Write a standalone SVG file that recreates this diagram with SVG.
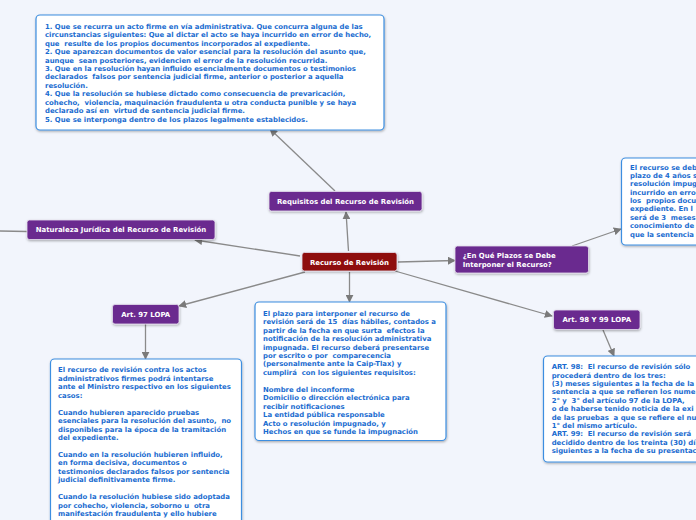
<svg xmlns="http://www.w3.org/2000/svg" width="696" height="520" viewBox="0 0 696 520">
<style>
.bg{fill:#f2f5fc}
.box{fill:#ffffff;stroke:#3d8ee0;stroke-width:1.2}
.pn{fill:#6b2a8f;stroke:#e6e0ee;stroke-width:0.8}
.rn{fill:#8e0f0c;stroke:#e6e0ee;stroke-width:0.8}
.bt{font-family:"DejaVu Sans",Verdana,sans-serif;font-weight:bold;font-size:6.9px;fill:#1a6cd0}
.nt{font-family:"DejaVu Sans",Verdana,sans-serif;font-weight:bold;font-size:6.95px;fill:#ffffff}
.c{stroke:#8a8a8a;stroke-width:1.3;fill:none}
</style>
<defs>
<marker id="ah" viewBox="0 0 10 10" refX="9" refY="5" markerWidth="8" markerHeight="8" markerUnits="userSpaceOnUse" orient="auto">
<path d="M0,0 L10,5 L0,10 z" fill="#7a7a7a"/>
</marker>
<filter id="sh" x="-10%" y="-10%" width="120%" height="130%">
<feDropShadow dx="0.5" dy="1.2" stdDeviation="0.9" flood-color="#000" flood-opacity="0.3"/>
</filter>
</defs>
<rect class="bg" x="0" y="0" width="696" height="520"/>

<g id="connectors">
<line class="c" x1="335" y1="191" x2="270" y2="129" marker-end="url(#ah)"/>
<line class="c" x1="348.5" y1="251" x2="346" y2="212" marker-end="url(#ah)"/>
<line class="c" x1="300" y1="256" x2="195" y2="240" marker-end="url(#ah)"/>
<line class="c" x1="0" y1="231" x2="27" y2="231.5"/>
<line class="c" x1="398" y1="262" x2="455" y2="260.5" marker-end="url(#ah)"/>
<line class="c" x1="572" y1="246" x2="621" y2="229" marker-end="url(#ah)"/>
<line class="c" x1="305" y1="272" x2="179" y2="306" marker-end="url(#ah)"/>
<line class="c" x1="145.5" y1="324" x2="145.5" y2="359" marker-end="url(#ah)"/>
<line class="c" x1="349.5" y1="272" x2="349.5" y2="302" marker-end="url(#ah)"/>
<line class="c" x1="395" y1="271" x2="552" y2="316" marker-end="url(#ah)"/>
<line class="c" x1="603" y1="330" x2="614" y2="356" marker-end="url(#ah)"/>
</g>

<g id="requisitos-texto">
<rect class="box" x="36" y="15" width="348" height="115" rx="4" filter="url(#sh)"/>
<text class="bt" xml:space="preserve"><tspan x="45" y="28.7">1. Que se recurra un acto firme en vía administrativa. Que concurra alguna de las</tspan>
<tspan x="45" y="37.15">circunstancias siguientes: Que al dictar el acto se haya incurrido en error de hecho,</tspan>
<tspan x="45" y="45.6">que  resulte de los propios documentos incorporados al expediente.</tspan>
<tspan x="45" y="54.05">2. Que aparezcan documentos de valor esencial para la resolución del asunto que,</tspan>
<tspan x="45" y="62.5">aunque  sean posteriores, evidencien el error de la resolución recurrida.</tspan>
<tspan x="45" y="70.95">3. Que en la resolución hayan influido esencialmente documentos o testimonios</tspan>
<tspan x="45" y="79.4">declarados  falsos por sentencia judicial firme, anterior o posterior a aquella</tspan>
<tspan x="45" y="87.85">resolución.</tspan>
<tspan x="45" y="96.3">4. Que la resolución se hubiese dictado como consecuencia de prevaricación,</tspan>
<tspan x="45" y="104.75">cohecho,  violencia, maquinación fraudulenta u otra conducta punible y se haya</tspan>
<tspan x="45" y="113.2">declarado así en  virtud de sentencia judicial firme.</tspan>
<tspan x="45" y="121.65">5. Que se interponga dentro de los plazos legalmente establecidos.</tspan></text>
</g>

<g id="requisitos">
<rect class="pn" x="269" y="191.5" width="153" height="19.5" rx="2.5" filter="url(#sh)"/>
<text class="nt" x="345.5" y="203.9" text-anchor="middle">Requisitos del Recurso de Revisión</text>
</g>

<g id="naturaleza">
<rect class="pn" x="27" y="220" width="188" height="19.5" rx="2.5" filter="url(#sh)"/>
<text class="nt" x="121" y="232.1" text-anchor="middle">Naturaleza Jurídica del Recurso de Revisión</text>
</g>

<g id="recurso">
<rect class="rn" x="302" y="252.5" width="95" height="18.5" rx="2.5" filter="url(#sh)"/>
<text class="nt" x="349.5" y="264.5" text-anchor="middle">Recurso de Revisión</text>
</g>

<g id="plazos">
<rect class="pn" x="455" y="246" width="133.5" height="27" rx="2.5" filter="url(#sh)"/>
<text class="nt"><tspan x="462.7" y="258.1">¿En Qué Plazos se Debe</tspan><tspan x="462.7" y="266.5">Interponer el Recurso?</tspan></text>
</g>

<g id="plazos-texto">
<rect class="box" x="621.5" y="158" width="90" height="87" rx="4" filter="url(#sh)"/>
<text class="bt" xml:space="preserve"><tspan x="630" y="169.7">El recurso se deb</tspan>
<tspan x="630" y="178.05">plazo de 4 años s</tspan>
<tspan x="630" y="186.4">resolución impug</tspan>
<tspan x="630" y="194.75">incurrido en erro</tspan>
<tspan x="630" y="203.1">los  propios docu</tspan>
<tspan x="630" y="211.45">expediente. En l</tspan>
<tspan x="630" y="219.8">será de 3  meses</tspan>
<tspan x="630" y="228.15">conocimiento de</tspan>
<tspan x="630" y="236.5">que la sentencia</tspan></text>
</g>

<g id="art97">
<rect class="pn" x="112.5" y="304.5" width="66.5" height="19.5" rx="2.5" filter="url(#sh)"/>
<text class="nt" x="145.7" y="316.7" text-anchor="middle">Art. 97 LOPA</text>
</g>

<g id="art97-texto">
<rect class="box" x="50.5" y="359" width="191" height="175" rx="4" filter="url(#sh)"/>
<text class="bt" xml:space="preserve"><tspan x="58" y="372.4">El recurso de revisión contra los actos</tspan>
<tspan x="58" y="380.85">administrativos firmes podrá intentarse</tspan>
<tspan x="58" y="389.3">ante el Ministro respectivo en los siguientes</tspan>
<tspan x="58" y="397.75">casos:</tspan>
<tspan x="58" y="414.65">Cuando hubieren aparecido pruebas</tspan>
<tspan x="58" y="423.1">esenciales para la resolución del asunto,  no</tspan>
<tspan x="58" y="431.55">disponibles para la época de la tramitación</tspan>
<tspan x="58" y="440">del expediente.</tspan>
<tspan x="58" y="456.9">Cuando en la resolución hubieren influido,</tspan>
<tspan x="58" y="465.35">en forma decisiva, documentos o</tspan>
<tspan x="58" y="473.8">testimonios declarados falsos por sentencia</tspan>
<tspan x="58" y="482.25">judicial definitivamente firme.</tspan>
<tspan x="58" y="499.15">Cuando la resolución hubiese sido adoptada</tspan>
<tspan x="58" y="507.6">por cohecho, violencia, soborno u  otra</tspan>
<tspan x="58" y="516.05">manifestación fraudulenta y ello hubiere</tspan></text>
</g>

<g id="plazo-texto">
<rect class="box" x="255" y="302" width="191" height="138.5" rx="4" filter="url(#sh)"/>
<text class="bt" xml:space="preserve"><tspan x="263" y="315.7">El plazo para interponer el recurso de</tspan>
<tspan x="263" y="324.15">revisión será de 15  días hábiles, contados a</tspan>
<tspan x="263" y="332.6">partir de la fecha en que surta  efectos la</tspan>
<tspan x="263" y="341.05">notificación de la resolución administrativa</tspan>
<tspan x="263" y="349.5">impugnada. El recurso deberá presentarse</tspan>
<tspan x="263" y="357.95">por escrito o por  comparecencia</tspan>
<tspan x="263" y="366.4">(personalmente ante la Caip-Tlax) y</tspan>
<tspan x="263" y="374.85">cumplirá  con los siguientes requisitos:</tspan>
<tspan x="263" y="391.75">Nombre del inconforme</tspan>
<tspan x="263" y="400.2">Domicilio o dirección electrónica para</tspan>
<tspan x="263" y="408.65">recibir notificaciones</tspan>
<tspan x="263" y="417.1">La entidad pública responsable</tspan>
<tspan x="263" y="425.55">Acto o resolución impugnado, y</tspan>
<tspan x="263" y="434">Hechos en que se funde la impugnación</tspan></text>
</g>

<g id="art98">
<rect class="pn" x="553.5" y="310" width="86.5" height="19.5" rx="2.5" filter="url(#sh)"/>
<text class="nt" x="596.7" y="322.1" text-anchor="middle">Art. 98 Y 99 LOPA</text>
</g>

<g id="art98-texto">
<rect class="box" x="543.5" y="356" width="170" height="106" rx="4" filter="url(#sh)"/>
<text class="bt" xml:space="preserve"><tspan x="551.7" y="369.4">ART. 98:  El recurso de revisión sólo</tspan>
<tspan x="551.7" y="377.75">procederá dentro de los tres:</tspan>
<tspan x="551.7" y="386.1">(3) meses siguientes a la fecha de la</tspan>
<tspan x="551.7" y="394.45">sentencia a que se refieren los nume</tspan>
<tspan x="551.7" y="402.8">2° y  3° del artículo 97 de la LOPA,</tspan>
<tspan x="551.7" y="411.15">o de haberse tenido noticia de la exi</tspan>
<tspan x="551.7" y="419.5">de las pruebas  a que se refiere el nu</tspan>
<tspan x="551.7" y="427.85">1° del mismo artículo.</tspan>
<tspan x="551.7" y="436.2">ART. 99:  El recurso de revisión será</tspan>
<tspan x="551.7" y="444.55">decidido dentro de los treinta (30) dí</tspan>
<tspan x="551.7" y="452.9">siguientes a la fecha de su presentac</tspan></text>
</g>
</svg>
